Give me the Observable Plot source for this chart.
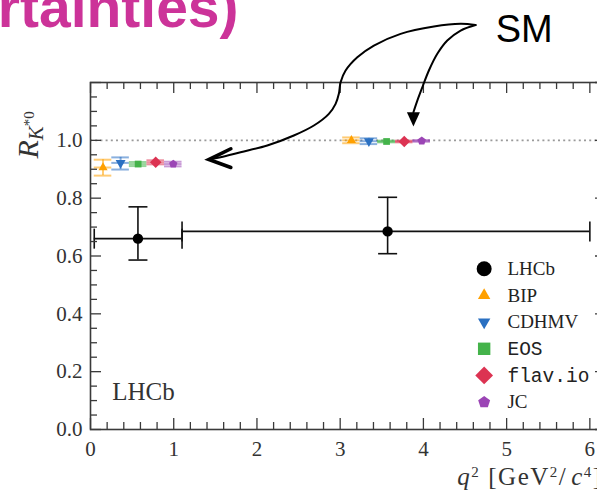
<!DOCTYPE html>
<html><head><meta charset="utf-8">
<script src="https://cdn.jsdelivr.net/npm/d3@7"></script>
<script src="https://cdn.jsdelivr.net/npm/@observablehq/plot@0.6"></script>
<style>
html,body{margin:0;padding:0;background:#fff;overflow:hidden;width:597px;height:495px}
</style>
</head><body><div id="chart"></div>
<script>
// ---------- data ----------
// LHCb measurement of R_K*0 in two q^2 bins
const lhcbBinLo = [0.045, 1.1];
const lhcbBinHi = [1.1, 6.0];
const lhcbQ2 = [0.57, 3.57];
const lhcbValue = [0.66, 0.685];
const lhcbErrLo = [0.586, 0.608];
const lhcbErrHi = [0.770, 0.803];

// SM predictions
const models = ["BIP", "CDHMV", "EOS", "flav.io", "JC"];
const modelColors = ["#ffa000", "#2a70c2", "#44b34a", "#dc3352", "#9b45b5"];
const lowSliceLo = [0.045, 0.256, 0.467, 0.678, 0.889];
const lowSliceHi = [0.256, 0.467, 0.678, 0.889, 1.1];
const lowValue = [0.906, 0.922, 0.918, 0.924, 0.918];
const lowErrLo = [0.878, 0.899, 0.911, 0.917, 0.910];
const lowErrHi = [0.933, 0.941, 0.925, 0.931, 0.926];
const centralSliceLo = [3.03, 3.24, 3.45, 3.665, 3.875];
const centralSliceHi = [3.24, 3.45, 3.665, 3.875, 4.085];
const centralValue = [1.000, 0.997, 0.996, 0.996, 0.998];
const centralErrLo = [0.990, 0.987, 0.993, 0.993, 0.995];
const centralErrHi = [1.010, 1.007, 0.999, 0.999, 1.001];

// axis ticks
const xTickValues = [0, 1, 2, 3, 4, 5, 6];
const yTickValues = [0.0, 0.2, 0.4, 0.6, 0.8, 1.0];
const legendLabels = ["LHCb", "BIP", "CDHMV", "EOS", "flav.io", "JC"];
const smLine = [1.0];

// annotation (slide overlay) in data coordinates
const titleText = ["rtainties)"];
const titleAt = [{x: 1.779, y: 1.3935}];
const smText = ["SM"];
const smAt = [{x: 4.868, y: 1.339}];
const curveA = [
  [4.627, 1.3987], [4.447, 1.4028], [4.126, 1.3935], [3.726, 1.3683], [3.405, 1.3278],
  [3.206, 1.2874], [3.065, 1.2414], [3.005, 1.2009], [2.984, 1.1608], [2.945, 1.1262],
  [2.864, 1.0916], [2.684, 1.0512], [2.443, 1.0166], [2.124, 0.9820], [1.803, 0.9588],
  [1.563, 0.9416], [1.422, 0.9336]
];
const curveB = [
  [4.627, 1.3987], [4.447, 1.3797], [4.287, 1.3451], [4.167, 1.2991], [4.066, 1.2414],
  [3.987, 1.1836], [3.927, 1.1376], [3.880, 1.0972]
];

// ---------- tables ----------
const lhcb = lhcbQ2.map((q, i) => ({q, lo: lhcbBinLo[i], hi: lhcbBinHi[i], v: lhcbValue[i], elo: lhcbErrLo[i], ehi: lhcbErrHi[i]}));
const theory = [];
models.forEach((m, k) => {
  theory.push({model: m, lo: lowSliceLo[k], hi: lowSliceHi[k], v: lowValue[k], elo: lowErrLo[k], ehi: lowErrHi[k]});
  theory.push({model: m, lo: centralSliceLo[k], hi: centralSliceHi[k], v: centralValue[k], elo: centralErrLo[k], ehi: centralErrHi[k]});
});
theory.forEach(d => d.q = (d.lo + d.hi) / 2);

// ---------- symbols ----------
const rad = s => Math.sqrt(s / Math.PI);
const capH = {draw(c, s) { const r = rad(s); c.moveTo(-r, 0); c.lineTo(r, 0); }};
const capV = {draw(c, s) { const r = rad(s); c.moveTo(0, -r); c.lineTo(0, r); }};
const pentagon = {draw(c, s) {
  const r = rad(s) * 1.1;
  for (let i = 0; i < 5; i++) {
    const a = -Math.PI / 2 + i * 2 * Math.PI / 5;
    const x = r * Math.cos(a), y = r * Math.sin(a);
    i ? c.lineTo(x, y) : c.moveTo(x, y);
  }
  c.closePath();
}};
const headDown = {draw(c, s) { const r = rad(s); c.moveTo(-r * 0.5, 0); c.lineTo(r * 0.5, 0); c.lineTo(0, r * 1.1); c.closePath(); }};
const chevron = {draw(c, s) { const r = rad(s); c.moveTo(r, -r * 0.49); c.lineTo(0, 0); c.lineTo(r, r * 0.36); }};

const modelSymbols = [d3.symbolTriangle, d3.symbolTriangle, d3.symbolSquare, d3.symbolDiamond2, pentagon];
const modelRotate = [0, 180, 0, 0, 0];
const plotR = [3.4, 3.7, 3.8, 5.2, 4];
const legendR = [4.6, 4.6, 7, 8, 5.7];

// ---------- layout ----------
const W = 615, H = 495, mL = 90, mR = 9, mT = 82, mB = 66;
const frameW = W - mL - mR, frameH = H - mT - mB;
const axisColor = "#3a3a3a";
const xMinor = d3.range(0, 32).map(i => +(i * 0.2).toFixed(1)).filter(v => !Number.isInteger(v));
const xMajor = d3.range(0, 7);
const yMinor = d3.range(0, 24).map(i => +(i * 0.05).toFixed(2)).filter(v => Math.abs(v * 5 - Math.round(v * 5)) > 1e-6);
const yMajor = d3.range(0, 7).map(i => +(i * 0.2).toFixed(1));
const majorLen = 11, minorLen = 7;
const tickStyle = {stroke: axisColor, strokeWidth: 1.3};

const legendX = 4.73, legendLabelX = 5.01, legendTop = 0.556, legendStep = 0.0923;
const legendRows = legendLabels.map((t, i) => ({t, i, y: legendTop - i * legendStep}));
const monoLabels = new Set(["EOS", "flav.io"]);

const theoryMarks = models.flatMap((m, k) => {
  const rows = theory.filter(d => d.model === m);
  const es = {stroke: modelColors[k], strokeOpacity: 0.55, strokeWidth: 2};
  return [
    Plot.ruleY(rows, {y: "v", x1: "lo", x2: "hi", ...es}),
    Plot.ruleX(rows, {x: "q", y1: "elo", y2: "ehi", ...es}),
    Plot.ruleY(rows, {y: "elo", x1: "lo", x2: "hi", ...es}),
    Plot.ruleY(rows, {y: "ehi", x1: "lo", x2: "hi", ...es}),
    Plot.dot(rows, {x: "q", y: "v", symbol: modelSymbols[k], r: plotR[k], fill: modelColors[k], stroke: "none", rotate: modelRotate[k]})
  ];
});

const legendMarks = [
  Plot.dot(legendRows.slice(0, 1), {x: () => legendX, y: "y", r: 7.5, fill: "black", stroke: "none"}),
  ...models.map((m, k) => Plot.dot(legendRows.slice(k + 1, k + 2), {x: () => legendX, y: "y", symbol: modelSymbols[k], r: legendR[k], fill: modelColors[k], stroke: "none", rotate: modelRotate[k]})),
  Plot.text(legendRows.filter(d => !monoLabels.has(d.t)), {x: () => legendLabelX, y: "y", text: "t", textAnchor: "start", lineAnchor: "middle", fontSize: 19, fontFamily: "Liberation Serif", fill: "#222"}),
  Plot.text(legendRows.filter(d => monoLabels.has(d.t)), {x: () => legendLabelX, y: "y", text: "t", textAnchor: "start", lineAnchor: "middle", fontSize: 19.5, fontFamily: "Liberation Mono", fill: "#222"})
];

const svg = Plot.plot({
  width: W, height: H,
  marginLeft: mL, marginRight: mR, marginTop: mT, marginBottom: mB,
  x: {domain: [0, 6.2]},
  y: {domain: [0, 1.2]},
  style: {fontFamily: "Liberation Serif", fontSize: "20px", background: "white", maxWidth: "none", overflow: "hidden"},
  marks: [
    Plot.ruleY(smLine, {stroke: "#9a9a9a", strokeWidth: 1.6, strokeDasharray: "2 3.2"}),
    ...theoryMarks,
    // LHCb error bars
    Plot.ruleY(lhcb, {y: "v", x1: "lo", x2: "hi", stroke: "#111", strokeWidth: 1.6}),
    Plot.ruleX(lhcb, {x: "q", y1: "elo", y2: "ehi", stroke: "#111", strokeWidth: 1.6}),
    Plot.dot(lhcb, {x: "q", y: "elo", symbol: capH, r: 9.5, fill: "none", stroke: "#111", strokeWidth: 1.6}),
    Plot.dot(lhcb, {x: "q", y: "ehi", symbol: capH, r: 9.5, fill: "none", stroke: "#111", strokeWidth: 1.6}),
    Plot.dot(lhcb, {x: "lo", y: "v", symbol: capV, r: 10, fill: "none", stroke: "#111", strokeWidth: 1.6}),
    Plot.dot(lhcb, {x: "hi", y: "v", symbol: capV, r: 10, fill: "none", stroke: "#111", strokeWidth: 1.6}),
    Plot.dot(lhcb, {x: "q", y: "v", r: 5.2, fill: "black", stroke: "none"}),
    // frame & inward ticks on all four sides
    Plot.frame({stroke: axisColor, strokeWidth: 1.6}),
    Plot.tickX(xMajor, {x: d => d, insetTop: frameH - majorLen, ...tickStyle}),
    Plot.tickX(xMinor, {x: d => d, insetTop: frameH - minorLen, ...tickStyle}),
    Plot.tickX(xMajor, {x: d => d, insetBottom: frameH - majorLen, ...tickStyle}),
    Plot.tickX(xMinor, {x: d => d, insetBottom: frameH - minorLen, ...tickStyle}),
    Plot.tickY(yMajor, {y: d => d, insetRight: frameW - majorLen, ...tickStyle}),
    Plot.tickY(yMinor, {y: d => d, insetRight: frameW - minorLen, ...tickStyle}),
    Plot.tickY(yMajor, {y: d => d, insetLeft: frameW - majorLen, ...tickStyle}),
    Plot.tickY(yMinor, {y: d => d, insetLeft: frameW - minorLen, ...tickStyle}),
    Plot.axisX({ticks: xTickValues, tickFormat: d3.format("d"), tickSize: 0, tickPadding: 12, fontSize: 21, color: "#333", label: null, anchor: "bottom"}),
    Plot.axisY({ticks: yTickValues, tickFormat: d3.format(".1f"), tickSize: 0, tickPadding: 8, fontSize: 21, color: "#333", label: null, anchor: "left"}),
    // axis titles (rich text filled in below)
    Plot.text(["RKLABEL"], {x: () => -0.625, y: () => 0.937, rotate: -90, textAnchor: "start", lineAnchor: "bottom", fontSize: 30, fontStyle: "italic", fill: "#333"}),
    Plot.text(["QLABEL"], {x: () => 4.407, y: () => -0.1905, textAnchor: "start", lineAnchor: "bottom", fontSize: 25, fill: "#333"}),
    Plot.text(["LHCb"], {x: () => 0.26, y: () => 0.103, textAnchor: "start", lineAnchor: "bottom", fontSize: 25, fill: "#333"}),
    ...legendMarks,
    // slide overlay
    Plot.text(titleText, {x: () => titleAt[0].x, y: () => titleAt[0].y, textAnchor: "end", lineAnchor: "bottom", fontSize: 57, fontWeight: "bold", fontFamily: "Liberation Sans", fill: "#cc3399"}),
    Plot.text(smText, {x: () => smAt[0].x, y: () => smAt[0].y, textAnchor: "start", lineAnchor: "bottom", fontSize: 38, fontFamily: "Liberation Sans", fill: "black"}),
    Plot.line(curveA, {x: d => d[0], y: d => d[1], curve: "catmull-rom", stroke: "black", strokeWidth: 2}),
    Plot.line(curveB, {x: d => d[0], y: d => d[1], curve: "catmull-rom", stroke: "black", strokeWidth: 2}),
    Plot.dot(curveA.slice(-1), {x: d => d[0], y: d => d[1], symbol: chevron, r: 22, fill: "none", stroke: "black", strokeWidth: 3.6, strokeLinecap: "round", strokeLinejoin: "miter"}),
    Plot.dot(curveB.slice(-1), {x: d => d[0], y: d => d[1], symbol: headDown, r: 13, fill: "black", stroke: "none"})
  ]
});

// rich-text axis titles
d3.select(svg).selectAll("text").each(function() {
  const t = d3.select(this);
  if (this.textContent === "RKLABEL") {
    t.text(null);
    t.append("tspan").text("R");
    t.append("tspan").attr("font-size", 21).attr("dy", 5).text("K");
    t.append("tspan").attr("font-size", 15).attr("font-style", "normal").attr("dy", -9).text("*0");
  } else if (this.textContent === "QLABEL") {
    t.attr("letter-spacing", 1.5);
    t.text(null);
    t.append("tspan").attr("font-style", "italic").text("q");
    t.append("tspan").attr("font-size", 15).attr("dy", -8).text("2");
    t.append("tspan").attr("dy", 8).attr("dx", 8).text("[GeV");
    t.append("tspan").attr("font-size", 15).attr("dy", -8).text("2");
    t.append("tspan").attr("dy", 8).text("/");
    t.append("tspan").attr("font-style", "italic").attr("dx", 4).text("c");
    t.append("tspan").attr("font-size", 15).attr("dy", -8).text("4");
    t.append("tspan").attr("dy", 8).text("]");
  }
});

document.getElementById("chart").append(svg);
</script>
</body></html>
